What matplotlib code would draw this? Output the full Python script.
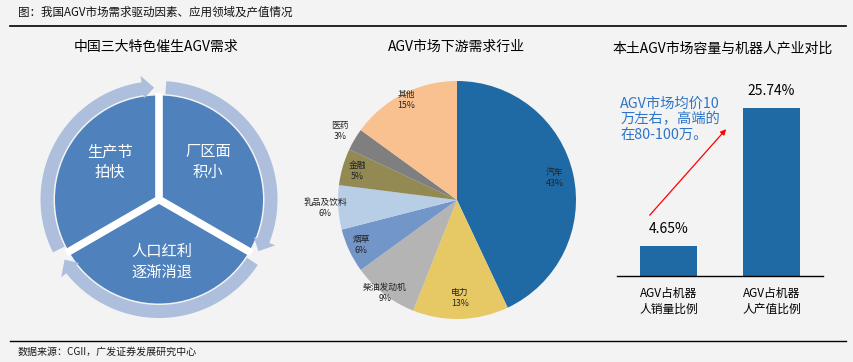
import numpy as np
import matplotlib
matplotlib.use("Agg")
import matplotlib.pyplot as plt
from matplotlib.patches import Wedge, Polygon
from matplotlib.lines import Line2D

plt.rcParams['font.family'] = ['Noto Sans CJK SC', 'DejaVu Sans']

# data
cycle_labels = ["生产节\n拍快", "厂区面\n积小", "人口红利\n逐渐消退"]

pie_labels = ["汽车", "电力", "柴油发动机", "烟草", "乳品及饮料", "金融", "医药", "其他"]
pie_values = [43, 13, 9, 6, 6, 5, 3, 15]

bar_labels = ["AGV占机器\n人销量比例", "AGV占机器\n人产值比例"]
bar_values = [4.65, 25.74]
note_text = "AGV市场均价10\n万左右，高端的\n在80-100万。"

# style
W, H = 854, 362
bg = "#f3f3f3"
sector_color = "#4f81bd"
ring_color = "#adbfdc"
pie_colors = ["#1f6aa5", "#e6c865", "#b4b4b4", "#7396c8",
              "#b8cde6", "#938a53", "#7f7f7f", "#f9c090"]
label_r = [0.84, 0.82, 0.99, 0.89, 1.11, 0.87, 1.14, 0.94]
bar_color = "#1f6aa5"

fig = plt.figure(figsize=(W / 100, H / 100), dpi=100, facecolor=bg)


def px_axes(cx, cy, hw, hh):
    return fig.add_axes([(cx - hw) / W, (H - cy - hh) / H, 2 * hw / W, 2 * hh / H])


# header / footer
fig.text(18 / W, 1 - 12 / H, "图：我国AGV市场需求驱动因素、应用领域及产值情况",
         fontsize=8.3, va="center", ha="left", color="#111111")
fig.add_artist(Line2D([10 / W, 846 / W], [1 - 26 / H, 1 - 26 / H], color="black", lw=1.2))
fig.add_artist(Line2D([10 / W, 846 / W], [1 - 341 / H, 1 - 341 / H], color="black", lw=1.0))
fig.text(18 / W, 1 - 352 / H, "数据来源：CGII，广发证券发展研究中心",
         fontsize=7.2, va="center", ha="left", color="#1a1a1a")

# panel titles
fig.text(156 / W, 1 - 47 / H, "中国三大特色催生AGV需求", fontsize=10, ha="center", va="center")
fig.text(456 / W, 1 - 47 / H, "AGV市场下游需求行业", fontsize=10, ha="center", va="center")
fig.text(723 / W, 1 - 48 / H, "本土AGV市场容量与机器人产业对比", fontsize=10, ha="center", va="center")

# ---- left: cycle diagram
ax1 = px_axes(159, 199.5, 135, 135)
ax1.set_xlim(-135, 135)
ax1.set_ylim(-135, 135)
ax1.set_aspect("equal")
ax1.axis("off")

R_sec, R_in, R_out = 104, 105.5, 118.5
H_in, H_out = 102, 125
sectors = [(210, 90), (90, -30), (-30, -150)]


def arc_arrow(a0, a1, head=6):
    neck = a1 + head
    t = np.radians(np.linspace(a0, neck, 80))
    outer = np.column_stack([R_out * np.cos(t), R_out * np.sin(t)])
    inner = np.column_stack([R_in * np.cos(t), R_in * np.sin(t)])[::-1]
    n, e = np.radians(neck), np.radians(a1)
    rm = (R_in + R_out) / 2
    tip = [[H_out * np.cos(n), H_out * np.sin(n)],
           [rm * np.cos(e), rm * np.sin(e)],
           [H_in * np.cos(n), H_in * np.sin(n)]]
    return np.vstack([outer, tip, inner])


for s, e in sectors:
    ax1.add_patch(Wedge((0, 0), R_sec, e, s, facecolor=sector_color, edgecolor="none"))
for s, e in sectors:
    a = np.radians(s)
    ax1.plot([0, (R_sec + 3) * np.cos(a)], [0, (R_sec + 3) * np.sin(a)], color="white",
             lw=5.5, solid_capstyle="butt")
for s, e in sectors:
    ax1.add_patch(Polygon(arc_arrow(s - 3.5, e + 2.5), closed=True,
                          facecolor=ring_color, edgecolor="none"))

text_pos = [(-49, 37.5), (49, 37.5), (3, -62.5)]
for (x, y), lab in zip(text_pos, cycle_labels):
    ax1.text(x, y, lab, color="white", fontsize=11, ha="center", va="center",
             linespacing=1.25)

# ---- middle: pie
ax2 = px_axes(457, 200, 150, 150)
lim = 150 / 119
ax2.pie(pie_values, colors=pie_colors, startangle=90, counterclock=False,
        radius=1, wedgeprops=dict(edgecolor="none"))
ax2.set_xlim(-lim, lim)
ax2.set_ylim(-lim, lim)
ax2.set_aspect("equal")
total = sum(pie_values)
cum = 0
for lab, v, r in zip(pie_labels, pie_values, label_r):
    mid = np.radians(90 - 360 * (cum + v / 2) / total)
    cum += v
    ax2.text(r * np.cos(mid), r * np.sin(mid), f"{lab}\n{v}%", fontsize=6.3,
             ha="center", va="center", color="#222222", linespacing=1.3)

# ---- right: bars
ax3 = fig.add_axes([617 / W, (H - 276) / H, 206 / W, 186 / H])
ax3.set_facecolor(bg)
x = np.arange(len(bar_values))
bars = ax3.bar(x, bar_values, width=0.55, color=bar_color)
ax3.set_xlim(-0.5, 1.5)
ax3.set_ylim(0, 186 / 6.53)
for sp in ["top", "left", "right"]:
    ax3.spines[sp].set_visible(False)
ax3.spines["bottom"].set_color("black")
ax3.spines["bottom"].set_linewidth(1.0)
ax3.set_yticks([])
ax3.set_xticks(x)
ax3.set_xticklabels(bar_labels, fontsize=8.5, linespacing=1.3)
ax3.tick_params(axis="x", length=0, pad=8)
for xi, v in zip(x, bar_values):
    ax3.annotate(f"{v:.2f}%", (xi, v), xytext=(0, 7), textcoords="offset points",
                 ha="center", va="bottom", fontsize=10)

ax3.text(-0.47, 27.5, note_text, color="#2e75c8", fontsize=10.3, ha="left", va="top",
         linespacing=1.15, clip_on=False)
ax3.annotate("", xy=(0.577, 22.8), xytext=(-0.2, 9.0),
             arrowprops=dict(arrowstyle="-|>", color="red", lw=0.9,
                             mutation_scale=8), annotation_clip=False)

fig.savefig("out.png", dpi=100, facecolor=bg)
